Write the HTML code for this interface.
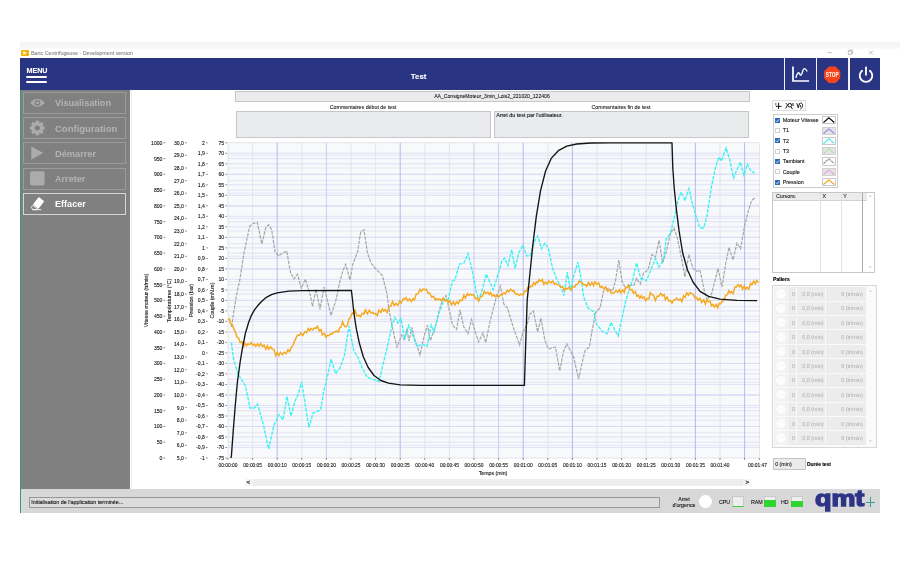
<!DOCTYPE html>
<html lang="fr"><head><meta charset="utf-8"><title>Banc Centrifugeuse - Development version</title>
<style>
html,body{margin:0;padding:0;background:#fff;}
body{filter:blur(.3px);width:900px;height:566px;position:relative;overflow:hidden;font-family:"Liberation Sans",sans-serif;font-size:5.3px;color:#222;}
.a{position:absolute;box-sizing:border-box;}
.t{position:absolute;white-space:nowrap;line-height:1;-webkit-text-stroke:.1px currentColor;}
.btn{position:absolute;left:22.9px;width:103.5px;height:22.2px;box-sizing:border-box;border:1px solid #9b9b9b;}
.btn span{position:absolute;left:31.4px;top:5.6px;font-size:9.4px;font-weight:bold;color:#b4b4b4;line-height:1;white-space:nowrap;transform-origin:0 50%;transform:scaleX(.95);}
.box{position:absolute;box-sizing:border-box;background:#e9ebed;border:.8px solid #c4c6c8;}
.leg{position:absolute;left:782.7px;font-size:5.4px;line-height:1;white-space:nowrap;color:#111;-webkit-text-stroke:.1px #111;}
.cb{position:absolute;left:775px;width:4.800px;height:5.200px;box-sizing:border-box;}
.cb.on{background:#2d6cb5;}
.cb.off{background:#fff;border:.5px solid #cfcfcf;}
.sw{position:absolute;left:822.4px;width:13.6px;height:8.2px;box-sizing:border-box;border:.5px solid #cacaca;background:#fff;}
.sw.off{background:#e4e4e4;border-color:#d0d0d0;}
.prow{position:absolute;left:774.2px;width:92px;height:13.6px;background:linear-gradient(90deg,#f4f4f4 0,#f4f4f4 12px,#ececec 12.5px);}
.prow i{position:absolute;left:2.1px;top:2.1px;width:9.4px;height:9.4px;border-radius:50%;background:#fcfcfc;box-shadow:0 0 0 .4px #eaeaea;}
.prow b{position:absolute;top:.8px;height:12px;box-sizing:border-box;border-left:.9px solid #f9f9f9;font-weight:normal;color:#a9a9a9;font-size:5.4px;line-height:12.4px;text-align:right;white-space:nowrap;}
</style></head><body>

<div class="a" style="left:20px;top:42px;width:880px;height:7.4px;background:linear-gradient(#f3f3f3,#f6f6f6 70%,#fbfbfb)"></div>
<div class="a" style="left:21px;top:50px;width:7.5px;height:6px;background:#f5b400;border-radius:.8px"></div>
<svg class="a" style="left:21px;top:50px" width="8" height="6" viewBox="0 0 8 6"><path d="M2.300 1.100 L6 3 L2.300 4.900 Z" fill="#fff"/></svg>
<div class="t" style="left:31px;top:50.6px;font-size:5.35px;color:#8a8a8a">Banc Centrifugeuse - Development version</div>
<svg class="a" style="left:820px;top:48px" width="60" height="10" viewBox="0 0 60 10"><g stroke="#9a9a9a" stroke-width=".6" fill="none"><path d="M7.5 4.6h4.4"/><rect x="28.2" y="3" width="3.4" height="3.4"/><path d="M29.2 3v-1h3.4v3.4h-1"/><path d="M49 2.6l4 4m0-4l-4 4"/></g></svg>
<div class="a" style="left:20px;top:58.4px;width:860px;height:31.2px;background:#293583"></div>
<div class="t" style="left:26.6px;top:67.1px;font-size:7.2px;font-weight:bold;color:#fff;letter-spacing:-.1px">MENU</div>
<div class="a" style="left:26px;top:75.6px;width:21px;height:2.7px;border-radius:1.4px;background:#fff"></div>
<div class="a" style="left:26px;top:80.7px;width:21px;height:2.7px;border-radius:1.4px;background:#fff"></div>
<div class="t" style="left:410.800px;top:73.400px;font-size:7.900px;font-weight:bold;color:#fff">Test</div>
<div class="a" style="left:784.3px;top:58.4px;width:1.2px;height:31.2px;background:#f2f3f8"></div>
<div class="a" style="left:816.2px;top:58.4px;width:1.2px;height:31.2px;background:#f2f3f8"></div>
<div class="a" style="left:848.4px;top:58.4px;width:1.2px;height:31.2px;background:#f2f3f8"></div>
<svg class="a" style="left:785px;top:58px" width="95" height="32" viewBox="785 58 95 32">
<g fill="none" stroke="#fff" stroke-linecap="square" stroke-linejoin="miter">
<path d="M793 67.400V81H808.200" stroke-width="1.700"/>
<path d="M795.900 77.500c1.500-5.200 2.700-5.600 3.700-3.600s1.900 1.700 3-2.400s2.700-3.600 4.400-.500" stroke-width="1.300" stroke-linecap="round"/>
</g>
<polygon points="828.900,66.600 835.500,66.600 840.300,71.400 840.300,78.200 835.500,83 828.900,83 824.100,78.200 824.100,71.400" fill="#f7441a"/>
<text x="832.200" y="77.100" font-family="Liberation Sans, sans-serif" font-weight="bold" font-size="6.300" fill="#fff" text-anchor="middle" textLength="13" lengthAdjust="spacingAndGlyphs">STOP</text>
<g fill="none" stroke="#fff" stroke-width="1.800" stroke-linecap="round">
<path d="M862.100 70.700a6.300 6.300 0 1 0 7.800 0"/>
<path d="M866 67.300V74.800"/>
</g></svg>
<div class="a" style="left:20px;top:89.6px;width:110.2px;height:399.4px;background:#808080"></div>
<div class="a" style="left:20px;top:89.6px;width:1px;height:423.4px;background:#3f8f8a"></div>
<div class="btn" style="top:91.8px"><span style="transform:scaleX(0.97)">Visualisation</span></div>
<div class="btn" style="top:117.1px"><span style="transform:scaleX(1.014)">Configuration</span></div>
<div class="btn" style="top:142.2px"><span style="transform:scaleX(0.985)">Démarrer</span></div>
<div class="btn" style="top:167.8px"><span style="transform:scaleX(0.97)">Arreter</span></div>
<div class="btn" style="top:192.8px;border-color:#d6d6d6"><span style="color:#fff;transform:scaleX(0.97)">Effacer</span></div>
<svg class="a" style="left:20px;top:90px" width="110" height="130" viewBox="20 90 110 130">
<g fill="#ababab">
<path d="M30.200 102.800C32.600 99.900 35 98.900 37.500 98.900S42.400 99.900 44.800 102.800C42.400 105.700 40 106.700 37.500 106.700S32.600 105.700 30.200 102.800Z"/>
<circle cx="37.500" cy="102.800" r="2.900" fill="#808080"/>
<circle cx="37.500" cy="102.800" r="1.500"/>
<g transform="translate(37.300 128)">
<circle r="4.300" fill="none" stroke="#ababab" stroke-width="3.400"/>
<rect x="-1.600" y="-7.400" width="3.200" height="3" transform="rotate(0)"/><rect x="-1.600" y="-7.400" width="3.200" height="3" transform="rotate(45)"/><rect x="-1.600" y="-7.400" width="3.200" height="3" transform="rotate(90)"/><rect x="-1.600" y="-7.400" width="3.200" height="3" transform="rotate(135)"/><rect x="-1.600" y="-7.400" width="3.200" height="3" transform="rotate(180)"/><rect x="-1.600" y="-7.400" width="3.200" height="3" transform="rotate(225)"/><rect x="-1.600" y="-7.400" width="3.200" height="3" transform="rotate(270)"/><rect x="-1.600" y="-7.400" width="3.200" height="3" transform="rotate(315)"/>
</g>
<path d="M31.300 146.400L43.300 153L31.300 159.600Z"/>
<rect x="30" y="171.300" width="14.600" height="14.200" rx="1.800"/>
</g>
<g fill="#fff">
<path d="M38.800 197.800L43.400 201.400L38.400 208L33.800 204.400Z" stroke="#fff" stroke-width="1.200" stroke-linejoin="round"/>
<path d="M32.900 205.300L37.500 208.900L36.200 209.600H33.400L31.500 208.200C31 207.700 31.100 207.300 31.500 206.900Z" fill="none" stroke="#fff" stroke-width=".9" stroke-linejoin="round"/>
<rect x="32.300" y="209.300" width="9" height=".9"/>
</g></svg>
<div class="a" style="left:131px;top:89.6px;width:1px;height:399px;background:#ececec"></div>
<div class="a" style="left:21px;top:489px;width:859px;height:24px;background:#d8d8d8"></div>
<div class="a" style="left:28.5px;top:497.2px;width:631px;height:10.4px;background:#dcdcdc;border:.9px solid #989898"></div>
<div class="t" style="left:31.2px;top:499.8px;font-size:5.4px;color:#111">Initialisation de l'application terminée...</div>
<div class="t" style="left:664px;top:495.900px;width:40px;text-align:center;font-size:5.3px;line-height:6.100px;white-space:normal;color:#111">Arret<br>d'urgence</div>
<div class="a" style="left:698.700px;top:495.400px;width:13px;height:13px;border-radius:50%;background:#fff"></div>
<div class="t" style="left:719px;top:499.6px;font-size:5.3px;color:#111">CPU</div>
<div class="a" style="left:732.3px;top:496px;width:11.8px;height:10.6px;background:#eceef0;border:.5px solid #c8c8c8;border-bottom:1px solid #3fd23f"></div>
<div class="t" style="left:751px;top:499.6px;font-size:5.3px;color:#111">RAM</div>
<div class="a" style="left:764.2px;top:496.2px;width:12.2px;height:10.8px;background:#eceef0;border:.5px solid #c8c8c8"></div>
<div class="a" style="left:764.2px;top:499.7px;width:12.2px;height:7.3px;background:#2fd42f"></div>
<div class="t" style="left:781px;top:499.6px;font-size:5.3px;color:#111">HD</div>
<div class="a" style="left:790.8px;top:496.2px;width:12.5px;height:10.8px;background:#eceef0;border:.5px solid #c8c8c8"></div>
<div class="a" style="left:790.8px;top:500.8px;width:12.5px;height:6.2px;background:#2fd42f"></div>
<div class="t" style="left:814.800px;top:489.300px;font-size:21.500px;font-weight:bold;color:#2e3486;letter-spacing:0;-webkit-text-stroke:1.400px #2e3486;transform-origin:0 50%;transform:scaleX(1.25)">qmt</div>
<div class="a" style="left:865.8px;top:501.6px;width:9.6px;height:.9px;background:#3a9c95"></div>
<div class="a" style="left:870.2px;top:497.4px;width:.9px;height:9.4px;background:#3a9c95"></div>
<div class="box" style="left:235.4px;top:91.4px;width:515px;height:10.2px"></div>
<div class="t" style="left:392px;width:200px;text-align:center;top:93.5px;font-size:5.1px">AA_ConsigneMoteur_3min_Lois2_221020_122406</div>
<div class="t" style="left:263px;width:200px;text-align:center;top:104.900px;font-size:5.3px">Commentaires début de test</div>
<div class="t" style="left:521px;width:200px;text-align:center;top:104.900px;font-size:5.3px">Commentaires fin de test</div>
<div class="box" style="left:236.2px;top:111.3px;width:254.4px;height:26.6px"></div>
<div class="box" style="left:494.3px;top:111.3px;width:254.3px;height:26.6px"></div>
<div class="t" style="left:496.2px;top:113.4px;font-size:5.4px;color:#111">Arret du test par l'utilisateur.</div>
<svg class="a" style="left:130px;top:138px" width="640" height="345" viewBox="130 138 640 345" font-family='Liberation Sans, sans-serif'>
<rect x="228.0" y="142.8" width="531.5" height="315.2" fill="#f7f9fb" stroke="#d4d6dc" stroke-width=".6"/>
<g stroke-width=".7"><path d="M228.0 153.31H759.5" stroke="#d6d6f4"/><path d="M228.0 163.81H759.5" stroke="#d6d6f4"/><path d="M228.0 174.32H759.5" stroke="#d6d6f4"/><path d="M228.0 184.83H759.5" stroke="#d6d6f4"/><path d="M228.0 195.33H759.5" stroke="#d6d6f4"/><path d="M228.0 205.84H759.5" stroke="#d6d6f4"/><path d="M228.0 216.35H759.5" stroke="#d6d6f4"/><path d="M228.0 226.85H759.5" stroke="#d6d6f4"/><path d="M228.0 237.36H759.5" stroke="#d6d6f4"/><path d="M228.0 247.87H759.5" stroke="#d6d6f4"/><path d="M228.0 258.37H759.5" stroke="#d6d6f4"/><path d="M228.0 268.88H759.5" stroke="#d6d6f4"/><path d="M228.0 279.39H759.5" stroke="#d6d6f4"/><path d="M228.0 289.89H759.5" stroke="#d6d6f4"/><path d="M228.0 300.40H759.5" stroke="#d6d6f4"/><path d="M228.0 310.91H759.5" stroke="#d6d6f4"/><path d="M228.0 321.41H759.5" stroke="#d6d6f4"/><path d="M228.0 331.92H759.5" stroke="#d6d6f4"/><path d="M228.0 342.43H759.5" stroke="#d6d6f4"/><path d="M228.0 352.93H759.5" stroke="#d6d6f4"/><path d="M228.0 363.44H759.5" stroke="#d6d6f4"/><path d="M228.0 373.95H759.5" stroke="#d6d6f4"/><path d="M228.0 384.45H759.5" stroke="#d6d6f4"/><path d="M228.0 394.96H759.5" stroke="#d6d6f4"/><path d="M228.0 405.47H759.5" stroke="#d6d6f4"/><path d="M228.0 415.97H759.5" stroke="#d6d6f4"/><path d="M228.0 426.48H759.5" stroke="#d6d6f4"/><path d="M228.0 436.99H759.5" stroke="#d6d6f4"/><path d="M228.0 447.49H759.5" stroke="#d6d6f4"/><path d="M228.0 155.41H759.5" stroke="#dcdcf5"/><path d="M228.0 168.02H759.5" stroke="#dcdcf5"/><path d="M228.0 180.62H759.5" stroke="#dcdcf5"/><path d="M228.0 193.23H759.5" stroke="#dcdcf5"/><path d="M228.0 205.84H759.5" stroke="#dcdcf5"/><path d="M228.0 218.45H759.5" stroke="#dcdcf5"/><path d="M228.0 231.06H759.5" stroke="#dcdcf5"/><path d="M228.0 243.66H759.5" stroke="#dcdcf5"/><path d="M228.0 256.27H759.5" stroke="#dcdcf5"/><path d="M228.0 268.88H759.5" stroke="#dcdcf5"/><path d="M228.0 281.49H759.5" stroke="#dcdcf5"/><path d="M228.0 294.10H759.5" stroke="#dcdcf5"/><path d="M228.0 306.70H759.5" stroke="#dcdcf5"/><path d="M228.0 319.31H759.5" stroke="#dcdcf5"/><path d="M228.0 331.92H759.5" stroke="#dcdcf5"/><path d="M228.0 344.53H759.5" stroke="#dcdcf5"/><path d="M228.0 357.14H759.5" stroke="#dcdcf5"/><path d="M228.0 369.74H759.5" stroke="#dcdcf5"/><path d="M228.0 382.35H759.5" stroke="#dcdcf5"/><path d="M228.0 394.96H759.5" stroke="#dcdcf5"/><path d="M228.0 407.57H759.5" stroke="#dcdcf5"/><path d="M228.0 420.18H759.5" stroke="#dcdcf5"/><path d="M228.0 432.78H759.5" stroke="#dcdcf5"/><path d="M228.0 445.39H759.5" stroke="#dcdcf5"/><path d="M228.0 158.56H759.5" stroke="#d9d9f5"/><path d="M228.0 174.32H759.5" stroke="#d9d9f5"/><path d="M228.0 190.08H759.5" stroke="#d9d9f5"/><path d="M228.0 205.84H759.5" stroke="#d9d9f5"/><path d="M228.0 221.60H759.5" stroke="#d9d9f5"/><path d="M228.0 237.36H759.5" stroke="#d9d9f5"/><path d="M228.0 253.12H759.5" stroke="#d9d9f5"/><path d="M228.0 268.88H759.5" stroke="#d9d9f5"/><path d="M228.0 284.64H759.5" stroke="#d9d9f5"/><path d="M228.0 300.40H759.5" stroke="#d9d9f5"/><path d="M228.0 316.16H759.5" stroke="#d9d9f5"/><path d="M228.0 331.92H759.5" stroke="#d9d9f5"/><path d="M228.0 347.68H759.5" stroke="#d9d9f5"/><path d="M228.0 363.44H759.5" stroke="#d9d9f5"/><path d="M228.0 379.20H759.5" stroke="#d9d9f5"/><path d="M228.0 394.96H759.5" stroke="#d9d9f5"/><path d="M228.0 410.72H759.5" stroke="#d9d9f5"/><path d="M228.0 426.48H759.5" stroke="#d9d9f5"/><path d="M228.0 442.24H759.5" stroke="#d9d9f5"/></g>
<g stroke-width=".8"><path d="M252.60 142.8V458.0" stroke="#dfe0ea"/><path d="M277.20 142.8V458.0" stroke="#a9a9ea"/><path d="M301.80 142.8V458.0" stroke="#dfe0ea"/><path d="M326.40 142.8V458.0" stroke="#c3c3ee"/><path d="M351.00 142.8V458.0" stroke="#dfe0ea"/><path d="M375.60 142.8V458.0" stroke="#dfe0ea"/><path d="M400.20 142.8V458.0" stroke="#a9a9ea"/><path d="M424.80 142.8V458.0" stroke="#dfe0ea"/><path d="M449.40 142.8V458.0" stroke="#dfe0ea"/><path d="M474.00 142.8V458.0" stroke="#c3c3ee"/><path d="M498.60 142.8V458.0" stroke="#c3c3ee"/><path d="M523.20 142.8V458.0" stroke="#a9a9ea"/><path d="M547.80 142.8V458.0" stroke="#dfe0ea"/><path d="M572.40 142.8V458.0" stroke="#a9a9ea"/><path d="M597.00 142.8V458.0" stroke="#dfe0ea"/><path d="M621.60 142.8V458.0" stroke="#dfe0ea"/><path d="M646.20 142.8V458.0" stroke="#dfe0ea"/><path d="M670.80 142.8V458.0" stroke="#dfe0ea"/><path d="M695.40 142.8V458.0" stroke="#a9a9ea"/><path d="M720.00 142.8V458.0" stroke="#dfe0ea"/><path d="M744.60 142.8V458.0" stroke="#a9a9ea"/></g>
<polyline points="231.3,327.0 232.2,322.7 234.0,310.0 236.4,296.0 238.0,288.0 239.8,280.0 244.0,253.0 249.7,226.2 253.3,223.3 257.3,222.5 261.8,244.0 265.8,227.6 268.6,224.7 271.7,229.8 275.0,251.6 278.5,255.8 282.7,253.0 286.7,251.0 290.6,272.8 294.0,279.0 297.4,274.2 301.4,288.3 305.3,279.0 310.4,295.4 312.5,306.5 316.0,289.0 320.0,309.5 324.0,287.0 326.0,294.5 331.0,315.5 336.0,300.0 340.0,281.0 343.0,270.5 345.7,264.3 350.0,280.0 352.8,264.3 357.6,251.6 360.7,231.8 364.0,229.8 367.5,253.0 371.0,263.0 375.4,268.5 382.4,275.6 386.7,292.5 389.7,314.0 394.0,335.0 397.0,347.0 401.7,335.0 404.0,339.5 406.8,329.0 409.0,341.0 412.0,327.5 414.0,336.5 420.0,355.0 424.0,336.5 427.5,325.0 430.3,340.7 435.4,326.6 441.0,304.0 446.0,295.5 449.5,311.0 452.4,325.0 456.6,329.4 460.0,309.7 463.7,326.6 468.0,333.7 471.6,319.5 475.0,331.0 478.6,342.0 483.0,333.0 485.7,342.7 490.5,319.5 496.0,298.4 500.4,286.2 503.8,304.0 507.5,308.0 513.0,326.6 519.6,345.0 523.0,332.0 527.0,325.0 530.0,314.0 533.4,311.0 537.7,332.0 540.8,318.0 545.0,340.7 548.4,349.0 555.5,347.0 559.7,371.0 563.4,352.0 566.8,343.6 571.0,352.0 573.8,357.7 578.6,378.9 582.3,362.0 585.0,350.6 589.4,347.0 592.0,330.8 595.6,312.5 600.0,308.0 603.5,291.3 608.4,288.3 612.6,291.0 615.4,281.0 618.8,260.0 622.0,281.0 625.3,288.3 629.5,285.5 633.8,285.5 636.6,278.4 640.3,284.0 643.7,272.8 648.0,270.0 652.0,254.4 655.5,257.0 659.0,240.3 662.6,263.0 666.3,251.6 670.5,233.0 674.0,228.0 677.6,239.0 681.0,255.8 685.0,277.0 688.9,254.4 693.0,268.5 696.8,271.4 700.0,270.0 704.4,291.0 707.0,300.0 711.5,294.0 714.9,281.0 718.0,268.5 722.0,287.0 725.6,264.3 729.0,247.3 733.0,260.0 737.0,243.0 740.6,248.8 744.0,229.0 748.0,212.0 751.6,200.7 754.7,198.0" fill="none" stroke="#a6a6a6" stroke-width="1.200" stroke-dasharray="3.5 1.1"/>
<polyline points="231.4,342.5 233.5,359.0 238.0,374.0 245.5,386.0 250.0,408.0 254.5,408.0 257.5,404.0 263.5,425.0 268.6,449.0 274.0,425.0 279.0,414.6 283.0,419.7 287.0,396.6 291.0,416.0 295.0,401.0 298.0,395.0 301.7,381.6 305.6,407.0 309.0,427.5 313.0,413.0 320.6,410.0 323.6,392.0 328.0,374.0 331.0,359.0 335.6,373.5 340.0,368.0 344.6,354.6 349.0,326.0 353.6,350.0 358.0,357.6 362.6,368.7 367.0,377.0 373.0,379.5 379.0,381.6 383.6,362.0 388.0,344.0 391.8,326.0 394.8,317.6 397.8,323.0 401.0,318.5 404.7,339.5 408.6,325.4 412.0,333.5 417.0,346.4 422.7,344.4 427.0,346.4 431.2,325.0 434.0,332.0 438.2,315.0 444.0,299.8 448.0,300.0 452.4,281.0 455.0,279.8 459.4,264.0 463.7,263.4 468.0,253.6 472.0,270.0 476.4,292.5 479.0,300.0 483.0,287.0 486.3,274.0 490.0,282.7 493.3,289.7 497.6,275.6 501.8,261.5 504.6,258.0 508.0,265.7 511.7,249.6 515.0,268.5 518.8,253.0 523.0,245.0 526.4,255.8 530.0,255.8 534.3,241.7 537.7,236.0 541.4,248.8 545.0,243.0 548.4,248.8 552.7,268.5 557.0,279.8 561.0,287.0 564.0,295.4 567.3,272.2 570.5,291.0 573.8,275.6 578.0,262.0 581.5,281.0 583.7,297.0 588.0,308.0 593.6,311.6 596.4,323.8 602.0,331.0 607.0,333.7 611.0,322.4 615.4,331.0 618.2,336.0 621.0,322.4 625.3,302.6 629.5,288.5 632.4,281.0 636.6,263.0 640.8,278.4 646.5,280.7 650.7,270.0 655.5,258.6 659.0,267.0 663.4,260.0 666.3,238.9 670.5,233.0 674.7,216.0 678.0,200.7 681.0,192.0 685.0,200.7 688.9,188.6 692.0,202.0 696.0,216.0 700.0,228.0 703.6,228.0 707.0,216.0 711.5,186.6 715.7,166.8 719.0,157.0 721.4,161.0 726.0,148.0 729.8,159.8 733.5,178.0 737.0,169.7 740.3,162.0 744.0,175.3 747.3,164.0 751.0,171.0 754.7,173.3" fill="none" stroke="#38f2f2" stroke-width="1.35" stroke-dasharray="3.6 1.2"/>
<polyline points="228.0,319.9 229.4,319.0 230.7,323.9 232.3,324.8 233.9,329.2 235.5,332.3 236.8,336.7 238.7,338.2 240.2,342.6 242.1,341.8 243.7,346.5 245.0,343.2 246.5,345.7 247.9,343.9 249.7,344.7 251.4,342.6 253.0,345.6 254.3,344.1 255.7,346.2 257.3,343.9 259.0,346.2 260.5,343.4 262.3,346.4 264.0,345.2 265.9,349.2 267.4,345.9 268.8,349.2 270.6,346.7 272.2,349.1 274.0,349.5 275.7,355.7 277.2,352.3 278.9,355.7 280.5,352.3 282.4,354.6 284.2,352.2 286.0,353.7 288.0,349.8 289.5,351.7 291.2,347.5 292.8,345.7 294.2,341.9 296.0,338.1 297.5,335.0 299.4,335.5 301.0,333.0 302.9,335.4 304.8,331.7 306.4,332.7 308.3,328.5 309.7,330.5 311.2,328.5 312.8,330.0 314.3,327.9 315.8,328.5 317.5,326.3 319.3,331.0 321.0,329.6 322.3,335.0 324.2,333.4 326.0,337.2 327.6,335.2 329.3,335.4 330.7,333.6 332.1,334.2 333.4,332.2 334.8,332.2 336.3,331.0 338.2,332.1 339.6,327.9 341.1,327.1 342.5,321.8 344.5,326.4 346.1,326.8 347.5,324.9 349.0,318.6 350.4,317.6 352.3,313.0 353.7,313.5 355.0,310.3 357.0,316.0 358.8,315.4 360.3,316.8 362.2,313.3 364.0,313.8 365.4,309.8 367.4,313.9 369.3,310.2 371.1,313.1 372.7,312.1 374.1,313.9 375.5,313.6 377.3,315.7 378.9,310.0 380.9,312.6 382.4,309.0 383.9,311.0 385.3,309.5 387.2,312.6 388.9,306.8 390.7,306.3 392.5,301.4 394.3,305.5 395.9,303.4 397.8,305.2 399.7,301.1 401.2,303.0 403.2,298.5 404.6,299.5 406.0,297.5 407.8,300.8 409.7,298.8 411.5,301.5 413.1,298.7 414.4,300.0 416.2,294.0 418.1,293.6 420.0,289.3 421.5,291.2 423.0,289.1 424.7,289.7 426.2,289.1 428.2,293.3 429.8,293.3 431.7,297.2 433.7,296.3 435.3,300.0 436.6,298.5 438.0,299.9 439.9,298.9 441.5,301.0 443.2,298.2 444.8,300.9 446.7,300.2 448.4,302.3 449.8,300.7 451.5,304.8 453.3,301.7 454.9,305.0 456.6,302.0 458.3,303.8 460.0,299.9 462.0,300.8 463.9,295.2 465.3,298.1 467.3,293.7 468.7,295.5 470.3,293.9 471.7,295.2 473.5,294.5 475.4,298.5 477.2,297.9 478.6,301.2 480.6,296.5 482.5,296.2 484.2,291.3 486.0,293.5 487.6,292.2 489.2,294.5 490.7,292.6 492.0,296.1 493.6,294.6 495.1,296.6 496.7,294.9 498.7,297.3 500.7,294.4 502.2,294.5 504.0,292.7 505.4,294.0 507.3,290.2 508.8,291.9 510.7,289.1 512.5,291.2 513.8,290.5 515.4,294.0 517.4,293.9 519.2,295.4 521.1,294.2 523.0,295.1 524.6,291.0 526.5,291.0 527.9,287.5 529.3,287.9 530.7,286.2 532.1,286.4 533.6,282.7 535.1,284.8 536.5,281.8 537.8,282.7 539.1,279.5 540.8,281.3 542.4,279.5 543.8,284.4 545.4,282.1 547.3,284.1 548.9,281.0 550.9,283.0 552.8,280.9 554.5,284.2 556.0,283.4 557.4,284.7 559.2,285.1 560.6,287.3 562.5,286.5 564.3,290.4 565.7,288.3 567.3,289.1 568.9,287.3 570.9,289.9 572.6,286.6 574.6,287.1 576.1,284.5 577.6,284.3 579.3,280.8 580.9,282.5 582.4,283.1 584.0,285.0 585.3,284.6 586.7,286.3 588.4,282.6 590.1,285.4 592.0,282.5 593.6,285.8 594.9,281.8 596.7,284.3 598.6,282.9 600.3,287.6 602.2,286.2 603.8,288.9 605.7,286.9 607.6,291.3 609.5,289.7 611.3,293.2 612.6,293.0 614.1,293.1 616.0,290.4 617.7,292.4 619.5,289.6 620.8,292.9 622.6,289.9 624.3,292.5 625.6,287.4 627.1,287.6 628.5,284.9 630.0,290.1 631.9,289.5 633.5,293.3 635.3,291.6 637.0,296.3 638.3,295.2 639.8,298.2 641.3,295.8 642.6,298.2 644.1,296.9 645.8,300.7 647.3,298.3 648.9,298.9 650.3,292.7 651.7,294.4 653.7,295.5 655.3,300.5 657.3,296.1 658.7,296.5 660.7,293.4 662.4,295.9 664.1,294.5 665.4,299.7 667.1,297.0 668.9,301.2 670.8,300.8 672.1,303.1 673.7,299.9 675.2,299.8 676.8,298.0 678.6,300.2 680.5,299.0 681.8,301.7 683.6,295.7 685.1,297.4 686.7,292.8 688.4,295.1 690.0,292.5 691.3,293.4 693.2,294.4 695.1,298.1 696.6,297.4 698.0,300.3 700.0,298.2 701.8,302.6 703.8,299.7 705.4,304.2 706.8,299.9 708.4,301.8 710.1,301.1 711.4,305.9 712.8,304.5 714.3,307.1 716.1,304.4 717.6,307.8 719.1,303.4 720.7,303.9 722.1,301.2 724.0,300.7 725.4,295.6 727.4,294.6 728.8,290.8 730.2,292.8 731.5,291.6 733.0,293.6 734.9,287.0 736.5,287.0 738.1,284.6 739.6,286.8 741.1,285.0 742.5,289.3 744.2,286.2 745.7,289.1 747.1,287.2 748.7,289.2 750.6,283.4 751.9,284.7 753.7,281.2 755.3,283.9 756.6,280.7 758.5,282.4" fill="none" stroke="#f5a81c" stroke-width="1.45" stroke-linejoin="miter"/>
<polyline points="230.9,458.0 231.4,456.0 233.3,430.0 235.3,405.0 237.4,382.0 240.3,361.0 242.5,347.8 245.4,333.3 246.4,330.0 248.6,322.5 251.3,315.6 254.3,310.2 257.6,305.8 261.8,301.2 266.4,297.3 271.5,294.6 277.1,292.9 288.7,291.1 302.0,290.6 351.4,290.3 352.3,298.0 353.6,310.2 355.0,320.5 356.5,329.7 359.4,343.3 363.3,356.8 368.2,367.5 374.0,375.5 380.8,380.5 388.5,383.2 400.2,384.8 420.0,385.3 450.0,385.4 524.4,385.4 525.5,350.0 527.2,300.0 530.0,272.8 532.9,244.5 536.3,216.3 540.5,190.8 545.6,171.0 551.2,158.4 558.3,150.7 566.8,146.2 576.7,144.0 590.8,143.0 610.0,142.8 672.0,142.8 672.8,168.0 674.2,188.0 676.2,207.8 679.0,230.4 682.7,253.0 687.5,270.0 693.0,282.0 700.0,291.3 708.6,296.4 720.0,299.2 737.0,300.3 757.0,300.6" fill="none" stroke="#141414" stroke-width="1.35" stroke-linejoin="round"/>
<g font-size="5.1" fill="#111" stroke="#111" stroke-width=".1">
<text x="162.4" y="144.7" text-anchor="end">1000</text>
<path d="M163.5 142.8h1.8" stroke="#333" stroke-width=".55"/>
<text x="162.4" y="160.5" text-anchor="end">950</text>
<path d="M163.5 158.6h1.8" stroke="#333" stroke-width=".55"/>
<text x="162.4" y="176.2" text-anchor="end">900</text>
<path d="M163.5 174.3h1.8" stroke="#333" stroke-width=".55"/>
<text x="162.4" y="192.0" text-anchor="end">850</text>
<path d="M163.5 190.1h1.8" stroke="#333" stroke-width=".55"/>
<text x="162.4" y="207.7" text-anchor="end">800</text>
<path d="M163.5 205.8h1.8" stroke="#333" stroke-width=".55"/>
<text x="162.4" y="223.5" text-anchor="end">750</text>
<path d="M163.5 221.6h1.8" stroke="#333" stroke-width=".55"/>
<text x="162.4" y="239.3" text-anchor="end">700</text>
<path d="M163.5 237.4h1.8" stroke="#333" stroke-width=".55"/>
<text x="162.4" y="255.0" text-anchor="end">650</text>
<path d="M163.5 253.1h1.8" stroke="#333" stroke-width=".55"/>
<text x="162.4" y="270.8" text-anchor="end">600</text>
<path d="M163.5 268.9h1.8" stroke="#333" stroke-width=".55"/>
<text x="162.4" y="286.5" text-anchor="end">550</text>
<path d="M163.5 284.6h1.8" stroke="#333" stroke-width=".55"/>
<text x="162.4" y="302.3" text-anchor="end">500</text>
<path d="M163.5 300.4h1.8" stroke="#333" stroke-width=".55"/>
<text x="162.4" y="318.1" text-anchor="end">450</text>
<path d="M163.5 316.2h1.8" stroke="#333" stroke-width=".55"/>
<text x="162.4" y="333.8" text-anchor="end">400</text>
<path d="M163.5 331.9h1.8" stroke="#333" stroke-width=".55"/>
<text x="162.4" y="349.6" text-anchor="end">350</text>
<path d="M163.5 347.7h1.8" stroke="#333" stroke-width=".55"/>
<text x="162.4" y="365.3" text-anchor="end">300</text>
<path d="M163.5 363.4h1.8" stroke="#333" stroke-width=".55"/>
<text x="162.4" y="381.1" text-anchor="end">250</text>
<path d="M163.5 379.2h1.8" stroke="#333" stroke-width=".55"/>
<text x="162.4" y="396.9" text-anchor="end">200</text>
<path d="M163.5 395.0h1.8" stroke="#333" stroke-width=".55"/>
<text x="162.4" y="412.6" text-anchor="end">150</text>
<path d="M163.5 410.7h1.8" stroke="#333" stroke-width=".55"/>
<text x="162.4" y="428.4" text-anchor="end">100</text>
<path d="M163.5 426.5h1.8" stroke="#333" stroke-width=".55"/>
<text x="162.4" y="444.1" text-anchor="end">50</text>
<path d="M163.5 442.2h1.8" stroke="#333" stroke-width=".55"/>
<text x="162.4" y="459.9" text-anchor="end">0</text>
<path d="M163.5 458.0h1.8" stroke="#333" stroke-width=".55"/>
<text x="183.9" y="144.7" text-anchor="end">30,0</text>
<path d="M185.0 142.8h1.8" stroke="#333" stroke-width=".55"/>
<text x="183.9" y="157.3" text-anchor="end">29,0</text>
<path d="M185.0 155.4h1.8" stroke="#333" stroke-width=".55"/>
<text x="183.9" y="169.9" text-anchor="end">28,0</text>
<path d="M185.0 168.0h1.8" stroke="#333" stroke-width=".55"/>
<text x="183.9" y="182.5" text-anchor="end">27,0</text>
<path d="M185.0 180.6h1.8" stroke="#333" stroke-width=".55"/>
<text x="183.9" y="195.1" text-anchor="end">26,0</text>
<path d="M185.0 193.2h1.8" stroke="#333" stroke-width=".55"/>
<text x="183.9" y="207.7" text-anchor="end">25,0</text>
<path d="M185.0 205.8h1.8" stroke="#333" stroke-width=".55"/>
<text x="183.9" y="220.3" text-anchor="end">24,0</text>
<path d="M185.0 218.4h1.8" stroke="#333" stroke-width=".55"/>
<text x="183.9" y="233.0" text-anchor="end">23,0</text>
<path d="M185.0 231.1h1.8" stroke="#333" stroke-width=".55"/>
<text x="183.9" y="245.6" text-anchor="end">22,0</text>
<path d="M185.0 243.7h1.8" stroke="#333" stroke-width=".55"/>
<text x="183.9" y="258.2" text-anchor="end">21,0</text>
<path d="M185.0 256.3h1.8" stroke="#333" stroke-width=".55"/>
<text x="183.9" y="270.8" text-anchor="end">20,0</text>
<path d="M185.0 268.9h1.8" stroke="#333" stroke-width=".55"/>
<text x="183.9" y="283.4" text-anchor="end">19,0</text>
<path d="M185.0 281.5h1.8" stroke="#333" stroke-width=".55"/>
<text x="183.9" y="296.0" text-anchor="end">18,0</text>
<path d="M185.0 294.1h1.8" stroke="#333" stroke-width=".55"/>
<text x="183.9" y="308.6" text-anchor="end">17,0</text>
<path d="M185.0 306.7h1.8" stroke="#333" stroke-width=".55"/>
<text x="183.9" y="321.2" text-anchor="end">16,0</text>
<path d="M185.0 319.3h1.8" stroke="#333" stroke-width=".55"/>
<text x="183.9" y="333.8" text-anchor="end">15,0</text>
<path d="M185.0 331.9h1.8" stroke="#333" stroke-width=".55"/>
<text x="183.9" y="346.4" text-anchor="end">14,0</text>
<path d="M185.0 344.5h1.8" stroke="#333" stroke-width=".55"/>
<text x="183.9" y="359.0" text-anchor="end">13,0</text>
<path d="M185.0 357.1h1.8" stroke="#333" stroke-width=".55"/>
<text x="183.9" y="371.6" text-anchor="end">12,0</text>
<path d="M185.0 369.7h1.8" stroke="#333" stroke-width=".55"/>
<text x="183.9" y="384.3" text-anchor="end">11,0</text>
<path d="M185.0 382.4h1.8" stroke="#333" stroke-width=".55"/>
<text x="183.9" y="396.9" text-anchor="end">10,0</text>
<path d="M185.0 395.0h1.8" stroke="#333" stroke-width=".55"/>
<text x="183.9" y="409.5" text-anchor="end">9,0</text>
<path d="M185.0 407.6h1.8" stroke="#333" stroke-width=".55"/>
<text x="183.9" y="422.1" text-anchor="end">8,0</text>
<path d="M185.0 420.2h1.8" stroke="#333" stroke-width=".55"/>
<text x="183.9" y="434.7" text-anchor="end">7,0</text>
<path d="M185.0 432.8h1.8" stroke="#333" stroke-width=".55"/>
<text x="183.9" y="447.3" text-anchor="end">6,0</text>
<path d="M185.0 445.4h1.8" stroke="#333" stroke-width=".55"/>
<text x="183.9" y="459.9" text-anchor="end">5,0</text>
<path d="M185.0 458.0h1.8" stroke="#333" stroke-width=".55"/>
<text x="204.9" y="144.7" text-anchor="end">2</text>
<path d="M206.0 142.8h1.8" stroke="#333" stroke-width=".55"/>
<text x="204.9" y="155.2" text-anchor="end">1,9</text>
<path d="M206.0 153.3h1.8" stroke="#333" stroke-width=".55"/>
<text x="204.9" y="165.7" text-anchor="end">1,8</text>
<path d="M206.0 163.8h1.8" stroke="#333" stroke-width=".55"/>
<text x="204.9" y="176.2" text-anchor="end">1,7</text>
<path d="M206.0 174.3h1.8" stroke="#333" stroke-width=".55"/>
<text x="204.9" y="186.7" text-anchor="end">1,6</text>
<path d="M206.0 184.8h1.8" stroke="#333" stroke-width=".55"/>
<text x="204.9" y="197.2" text-anchor="end">1,5</text>
<path d="M206.0 195.3h1.8" stroke="#333" stroke-width=".55"/>
<text x="204.9" y="207.7" text-anchor="end">1,4</text>
<path d="M206.0 205.8h1.8" stroke="#333" stroke-width=".55"/>
<text x="204.9" y="218.2" text-anchor="end">1,3</text>
<path d="M206.0 216.3h1.8" stroke="#333" stroke-width=".55"/>
<text x="204.9" y="228.8" text-anchor="end">1,2</text>
<path d="M206.0 226.9h1.8" stroke="#333" stroke-width=".55"/>
<text x="204.9" y="239.3" text-anchor="end">1,1</text>
<path d="M206.0 237.4h1.8" stroke="#333" stroke-width=".55"/>
<text x="204.9" y="249.8" text-anchor="end">1</text>
<path d="M206.0 247.9h1.8" stroke="#333" stroke-width=".55"/>
<text x="204.9" y="260.3" text-anchor="end">0,9</text>
<path d="M206.0 258.4h1.8" stroke="#333" stroke-width=".55"/>
<text x="204.9" y="270.8" text-anchor="end">0,8</text>
<path d="M206.0 268.9h1.8" stroke="#333" stroke-width=".55"/>
<text x="204.9" y="281.3" text-anchor="end">0,7</text>
<path d="M206.0 279.4h1.8" stroke="#333" stroke-width=".55"/>
<text x="204.9" y="291.8" text-anchor="end">0,6</text>
<path d="M206.0 289.9h1.8" stroke="#333" stroke-width=".55"/>
<text x="204.9" y="302.3" text-anchor="end">0,5</text>
<path d="M206.0 300.4h1.8" stroke="#333" stroke-width=".55"/>
<text x="204.9" y="312.8" text-anchor="end">0,4</text>
<path d="M206.0 310.9h1.8" stroke="#333" stroke-width=".55"/>
<text x="204.9" y="323.3" text-anchor="end">0,3</text>
<path d="M206.0 321.4h1.8" stroke="#333" stroke-width=".55"/>
<text x="204.9" y="333.8" text-anchor="end">0,2</text>
<path d="M206.0 331.9h1.8" stroke="#333" stroke-width=".55"/>
<text x="204.9" y="344.3" text-anchor="end">0,1</text>
<path d="M206.0 342.4h1.8" stroke="#333" stroke-width=".55"/>
<text x="204.9" y="354.8" text-anchor="end">0</text>
<path d="M206.0 352.9h1.8" stroke="#333" stroke-width=".55"/>
<text x="204.9" y="365.3" text-anchor="end">-0,1</text>
<path d="M206.0 363.4h1.8" stroke="#333" stroke-width=".55"/>
<text x="204.9" y="375.8" text-anchor="end">-0,2</text>
<path d="M206.0 373.9h1.8" stroke="#333" stroke-width=".55"/>
<text x="204.9" y="386.4" text-anchor="end">-0,3</text>
<path d="M206.0 384.5h1.8" stroke="#333" stroke-width=".55"/>
<text x="204.9" y="396.9" text-anchor="end">-0,4</text>
<path d="M206.0 395.0h1.8" stroke="#333" stroke-width=".55"/>
<text x="204.9" y="407.4" text-anchor="end">-0,5</text>
<path d="M206.0 405.5h1.8" stroke="#333" stroke-width=".55"/>
<text x="204.9" y="417.9" text-anchor="end">-0,6</text>
<path d="M206.0 416.0h1.8" stroke="#333" stroke-width=".55"/>
<text x="204.9" y="428.4" text-anchor="end">-0,7</text>
<path d="M206.0 426.5h1.8" stroke="#333" stroke-width=".55"/>
<text x="204.9" y="438.9" text-anchor="end">-0,8</text>
<path d="M206.0 437.0h1.8" stroke="#333" stroke-width=".55"/>
<text x="204.9" y="449.4" text-anchor="end">-0,9</text>
<path d="M206.0 447.5h1.8" stroke="#333" stroke-width=".55"/>
<text x="204.9" y="459.9" text-anchor="end">-1</text>
<path d="M206.0 458.0h1.8" stroke="#333" stroke-width=".55"/>
<text x="224.2" y="144.7" text-anchor="end">75</text>
<path d="M225.3 142.8h1.8" stroke="#333" stroke-width=".55"/>
<text x="224.2" y="155.2" text-anchor="end">70</text>
<path d="M225.3 153.3h1.8" stroke="#333" stroke-width=".55"/>
<text x="224.2" y="165.7" text-anchor="end">65</text>
<path d="M225.3 163.8h1.8" stroke="#333" stroke-width=".55"/>
<text x="224.2" y="176.2" text-anchor="end">60</text>
<path d="M225.3 174.3h1.8" stroke="#333" stroke-width=".55"/>
<text x="224.2" y="186.7" text-anchor="end">55</text>
<path d="M225.3 184.8h1.8" stroke="#333" stroke-width=".55"/>
<text x="224.2" y="197.2" text-anchor="end">50</text>
<path d="M225.3 195.3h1.8" stroke="#333" stroke-width=".55"/>
<text x="224.2" y="207.7" text-anchor="end">45</text>
<path d="M225.3 205.8h1.8" stroke="#333" stroke-width=".55"/>
<text x="224.2" y="218.2" text-anchor="end">40</text>
<path d="M225.3 216.3h1.8" stroke="#333" stroke-width=".55"/>
<text x="224.2" y="228.8" text-anchor="end">35</text>
<path d="M225.3 226.9h1.8" stroke="#333" stroke-width=".55"/>
<text x="224.2" y="239.3" text-anchor="end">30</text>
<path d="M225.3 237.4h1.8" stroke="#333" stroke-width=".55"/>
<text x="224.2" y="249.8" text-anchor="end">25</text>
<path d="M225.3 247.9h1.8" stroke="#333" stroke-width=".55"/>
<text x="224.2" y="260.3" text-anchor="end">20</text>
<path d="M225.3 258.4h1.8" stroke="#333" stroke-width=".55"/>
<text x="224.2" y="270.8" text-anchor="end">15</text>
<path d="M225.3 268.9h1.8" stroke="#333" stroke-width=".55"/>
<text x="224.2" y="281.3" text-anchor="end">10</text>
<path d="M225.3 279.4h1.8" stroke="#333" stroke-width=".55"/>
<text x="224.2" y="291.8" text-anchor="end">5</text>
<path d="M225.3 289.9h1.8" stroke="#333" stroke-width=".55"/>
<text x="224.2" y="302.3" text-anchor="end">0</text>
<path d="M225.3 300.4h1.8" stroke="#333" stroke-width=".55"/>
<text x="224.2" y="312.8" text-anchor="end">-5</text>
<path d="M225.3 310.9h1.8" stroke="#333" stroke-width=".55"/>
<text x="224.2" y="323.3" text-anchor="end">-10</text>
<path d="M225.3 321.4h1.8" stroke="#333" stroke-width=".55"/>
<text x="224.2" y="333.8" text-anchor="end">-15</text>
<path d="M225.3 331.9h1.8" stroke="#333" stroke-width=".55"/>
<text x="224.2" y="344.3" text-anchor="end">-20</text>
<path d="M225.3 342.4h1.8" stroke="#333" stroke-width=".55"/>
<text x="224.2" y="354.8" text-anchor="end">-25</text>
<path d="M225.3 352.9h1.8" stroke="#333" stroke-width=".55"/>
<text x="224.2" y="365.3" text-anchor="end">-30</text>
<path d="M225.3 363.4h1.8" stroke="#333" stroke-width=".55"/>
<text x="224.2" y="375.8" text-anchor="end">-35</text>
<path d="M225.3 373.9h1.8" stroke="#333" stroke-width=".55"/>
<text x="224.2" y="386.4" text-anchor="end">-40</text>
<path d="M225.3 384.5h1.8" stroke="#333" stroke-width=".55"/>
<text x="224.2" y="396.9" text-anchor="end">-45</text>
<path d="M225.3 395.0h1.8" stroke="#333" stroke-width=".55"/>
<text x="224.2" y="407.4" text-anchor="end">-50</text>
<path d="M225.3 405.5h1.8" stroke="#333" stroke-width=".55"/>
<text x="224.2" y="417.9" text-anchor="end">-55</text>
<path d="M225.3 416.0h1.8" stroke="#333" stroke-width=".55"/>
<text x="224.2" y="428.4" text-anchor="end">-60</text>
<path d="M225.3 426.5h1.8" stroke="#333" stroke-width=".55"/>
<text x="224.2" y="438.9" text-anchor="end">-65</text>
<path d="M225.3 437.0h1.8" stroke="#333" stroke-width=".55"/>
<text x="224.2" y="449.4" text-anchor="end">-70</text>
<path d="M225.3 447.5h1.8" stroke="#333" stroke-width=".55"/>
<text x="224.2" y="459.9" text-anchor="end">-75</text>
<path d="M225.3 458.0h1.8" stroke="#333" stroke-width=".55"/>
<text x="228.0" y="467" text-anchor="middle" font-size="4.85">00:00:00</text>
<text x="252.6" y="467" text-anchor="middle" font-size="4.85">00:00:05</text>
<text x="277.2" y="467" text-anchor="middle" font-size="4.85">00:00:10</text>
<text x="301.8" y="467" text-anchor="middle" font-size="4.85">00:00:15</text>
<text x="326.4" y="467" text-anchor="middle" font-size="4.85">00:00:20</text>
<text x="351.0" y="467" text-anchor="middle" font-size="4.85">00:00:25</text>
<text x="375.6" y="467" text-anchor="middle" font-size="4.85">00:00:30</text>
<text x="400.2" y="467" text-anchor="middle" font-size="4.85">00:00:35</text>
<text x="424.8" y="467" text-anchor="middle" font-size="4.85">00:00:40</text>
<text x="449.4" y="467" text-anchor="middle" font-size="4.85">00:00:45</text>
<text x="474.0" y="467" text-anchor="middle" font-size="4.85">00:00:50</text>
<text x="498.6" y="467" text-anchor="middle" font-size="4.85">00:00:55</text>
<text x="523.2" y="467" text-anchor="middle" font-size="4.85">00:01:00</text>
<text x="547.8" y="467" text-anchor="middle" font-size="4.85">00:01:05</text>
<text x="572.4" y="467" text-anchor="middle" font-size="4.85">00:01:10</text>
<text x="597.0" y="467" text-anchor="middle" font-size="4.85">00:01:15</text>
<text x="621.6" y="467" text-anchor="middle" font-size="4.85">00:01:20</text>
<text x="646.2" y="467" text-anchor="middle" font-size="4.85">00:01:25</text>
<text x="670.8" y="467" text-anchor="middle" font-size="4.85">00:01:30</text>
<text x="695.4" y="467" text-anchor="middle" font-size="4.85">00:01:35</text>
<text x="720.0" y="467" text-anchor="middle" font-size="4.85">00:01:40</text>
<text x="757.5" y="467" text-anchor="middle" font-size="4.85">00:01:47</text>
<path d="M228.00 458v1.800" stroke="#333" stroke-width=".6"/>
<path d="M252.60 458v1.800" stroke="#333" stroke-width=".6"/>
<path d="M277.20 458v1.800" stroke="#333" stroke-width=".6"/>
<path d="M301.80 458v1.800" stroke="#333" stroke-width=".6"/>
<path d="M326.40 458v1.800" stroke="#333" stroke-width=".6"/>
<path d="M351.00 458v1.800" stroke="#333" stroke-width=".6"/>
<path d="M375.60 458v1.800" stroke="#333" stroke-width=".6"/>
<path d="M400.20 458v1.800" stroke="#333" stroke-width=".6"/>
<path d="M424.80 458v1.800" stroke="#333" stroke-width=".6"/>
<path d="M449.40 458v1.800" stroke="#333" stroke-width=".6"/>
<path d="M474.00 458v1.800" stroke="#333" stroke-width=".6"/>
<path d="M498.60 458v1.800" stroke="#333" stroke-width=".6"/>
<path d="M523.20 458v1.800" stroke="#333" stroke-width=".6"/>
<path d="M547.80 458v1.800" stroke="#333" stroke-width=".6"/>
<path d="M572.40 458v1.800" stroke="#333" stroke-width=".6"/>
<path d="M597.00 458v1.800" stroke="#333" stroke-width=".6"/>
<path d="M621.60 458v1.800" stroke="#333" stroke-width=".6"/>
<path d="M646.20 458v1.800" stroke="#333" stroke-width=".6"/>
<path d="M670.80 458v1.800" stroke="#333" stroke-width=".6"/>
<path d="M695.40 458v1.800" stroke="#333" stroke-width=".6"/>
<path d="M720.00 458v1.800" stroke="#333" stroke-width=".6"/>
<path d="M744.60 458v1.800" stroke="#333" stroke-width=".6"/>
<path d="M759.300 458v1.800" stroke="#333" stroke-width=".6"/>
<text x="493" y="474.6" text-anchor="middle" font-size="5.2">Temps (min)</text>
<text transform="translate(148.2 300.500) rotate(-90)" text-anchor="middle" font-size="5.3">Vitesse moteur (tr/min)</text>
<text transform="translate(170.8 300.500) rotate(-90)" text-anchor="middle" font-size="5.3">Températures (°C)</text>
<text transform="translate(192.8 300.500) rotate(-90)" text-anchor="middle" font-size="5.3">Pression (bar)</text>
<text transform="translate(213.6 300.500) rotate(-90)" text-anchor="middle" font-size="5.3">Couple (mN.m)</text>
</g></svg>
<div class="a" style="left:244.6px;top:478.6px;width:506.6px;height:7px;background:linear-gradient(90deg,#f5f5f5 0,#f5f5f5 8px,#ededed 8.5px,#ededed 498px,#f5f5f5 498.500px)"></div>
<div class="t" style="left:246.400px;top:478.700px;font-size:6.200px;font-weight:bold;color:#222">&lt;</div>
<div class="t" style="left:745.400px;top:478.700px;font-size:6.200px;font-weight:bold;color:#222">&gt;</div>
<div class="a" style="left:772.3px;top:100.200px;width:33.500px;height:11.200px;background:#fcfcfc;border:.6px solid #dcdcdc"></div>
<svg class="a" style="left:772px;top:100px" width="34" height="12" viewBox="772 100 34 12"><g fill="none" stroke="#111" stroke-width=".95">
<path d="M778.600 102.800v6.300M776 106.400h5.500"/><path d="M775.800 103v2.400" stroke="#2f9a2f" stroke-width="1.100"/>
<circle cx="789.800" cy="105.200" r="1.800"/><path d="M791 106.800l1.500 2.300M786 103.200l1.500 1.700-1.700 3.600M793 103v3"/>
<path d="M796.800 103.200l1.500 4.600 1.300-4.600M800.200 103c1.500-.2 2.400.8 2.400 2.400s-.8 3-2.200 3.600M800.600 105.200v2"/>
</g></svg>
<div class="a" style="left:773px;top:114px;width:64.600px;height:74.400px;background:#fff;border:.6px solid #cccccc"></div>
<div class="cb on" style="top:117.7px"></div>
<svg class="a" style="left:775px;top:117.7px" width="5.2" height="5.2" viewBox="0 0 5.2 5.2"><path d="M1.100 2.700l1.100 1.100 1.900-2.400" fill="none" stroke="#fff" stroke-width=".8"/></svg>
<div class="leg" style="top:118.0px">Moteur Vitesse</div>
<div class="sw" style="top:116.2px"></div>
<svg class="a" style="left:822.4px;top:116.2px" width="13.600" height="8.200" viewBox="0 0 13.600 8.200"><path d="M1.500 6.500L6.900 1.900L12.300 6.500" fill="none" stroke="#111" stroke-width="1.25"/></svg>
<div class="cb off" style="top:128.0px"></div>
<div class="leg" style="top:128.3px">T1</div>
<div class="sw off" style="top:126.5px"></div>
<svg class="a" style="left:822.4px;top:126.5px" width="13.600" height="8.200" viewBox="0 0 13.600 8.200"><path d="M1.500 6.500L6.900 1.900L12.300 6.500" fill="none" stroke="#8c8cf0" stroke-width="1.1"/></svg>
<div class="cb on" style="top:138.3px"></div>
<svg class="a" style="left:775px;top:138.3px" width="5.2" height="5.2" viewBox="0 0 5.2 5.2"><path d="M1.100 2.700l1.100 1.100 1.900-2.400" fill="none" stroke="#fff" stroke-width=".8"/></svg>
<div class="leg" style="top:138.6px">T2</div>
<div class="sw" style="top:136.8px"></div>
<svg class="a" style="left:822.4px;top:136.8px" width="13.600" height="8.200" viewBox="0 0 13.600 8.200"><path d="M1.500 6.500L6.900 1.900L12.300 6.500" fill="none" stroke="#30eaea" stroke-width="1.25" stroke-dasharray="2.800 .6"/></svg>
<div class="cb off" style="top:148.6px"></div>
<div class="leg" style="top:148.9px">T3</div>
<div class="sw off" style="top:147.1px"></div>
<svg class="a" style="left:822.4px;top:147.1px" width="13.600" height="8.200" viewBox="0 0 13.600 8.200"><path d="M1.500 6.500L6.900 1.900L12.300 6.500" fill="none" stroke="#a5e8b0" stroke-width="1.1"/></svg>
<div class="cb on" style="top:158.9px"></div>
<svg class="a" style="left:775px;top:158.9px" width="5.2" height="5.2" viewBox="0 0 5.2 5.2"><path d="M1.100 2.700l1.100 1.100 1.900-2.400" fill="none" stroke="#fff" stroke-width=".8"/></svg>
<div class="leg" style="top:159.2px">Tambiant</div>
<div class="sw" style="top:157.4px"></div>
<svg class="a" style="left:822.4px;top:157.4px" width="13.600" height="8.200" viewBox="0 0 13.600 8.200"><path d="M1.500 6.500L6.900 1.900L12.300 6.500" fill="none" stroke="#9a9a9a" stroke-width="1.25" stroke-dasharray="2.800 .6"/></svg>
<div class="cb off" style="top:169.2px"></div>
<div class="leg" style="top:169.5px">Couple</div>
<div class="sw off" style="top:167.7px"></div>
<svg class="a" style="left:822.4px;top:167.7px" width="13.600" height="8.200" viewBox="0 0 13.600 8.200"><path d="M1.500 6.500L6.900 1.900L12.300 6.500" fill="none" stroke="#e8a0e0" stroke-width="1.1"/></svg>
<div class="cb on" style="top:179.5px"></div>
<svg class="a" style="left:775px;top:179.5px" width="5.2" height="5.2" viewBox="0 0 5.2 5.2"><path d="M1.100 2.700l1.100 1.100 1.900-2.400" fill="none" stroke="#fff" stroke-width=".8"/></svg>
<div class="leg" style="top:179.8px">Pression</div>
<div class="sw" style="top:178.0px"></div>
<svg class="a" style="left:822.4px;top:178.0px" width="13.600" height="8.200" viewBox="0 0 13.600 8.200"><path d="M1.500 6.500L6.900 1.900L12.300 6.500" fill="none" stroke="#f5a81c" stroke-width="1.25"/></svg>
<div class="a" style="left:772px;top:192.400px;width:103px;height:80.200px;background:#fff;border:.6px solid #c8c8c8"></div>
<div class="a" style="left:772.6px;top:193px;width:94px;height:7.600px;background:#ececec;border-bottom:.8px solid #d2d2d2"></div>
<div class="a" style="left:820.1px;top:193px;width:.8px;height:79px;background:#e2e2e2"></div>
<div class="a" style="left:840.6px;top:193px;width:.8px;height:79px;background:#e2e2e2"></div>
<div class="a" style="left:861.9px;top:193px;width:.8px;height:79px;background:#aaaaaa"></div>
<div class="t" style="left:776px;top:194.300px;font-size:5.3px">Cursors:</div>
<div class="t" style="left:822.600px;top:194.300px;font-size:5.3px">X</div>
<div class="t" style="left:843.200px;top:194.300px;font-size:5.3px">Y</div>
<div class="t" style="left:868.600px;top:195.400px;font-size:3.6px;color:#c8c8c8">▲</div>
<div class="t" style="left:868.600px;top:266.400px;font-size:3.6px;color:#c8c8c8">▼</div>
<div class="t" style="left:773px;top:277px;font-size:5.1px;font-weight:bold;color:#000;-webkit-text-stroke:.15px #000">Paliers</div>
<div class="a" style="left:772px;top:284.600px;width:104.800px;height:163.400px;background:#fafafa;border:.8px solid #d4d8dc"></div>
<div class="prow" style="top:287.1px"><i></i><b style="left:12.6px;width:8.2px">0</b><b style="left:22.3px;width:27px">0,0 (min)</b><b style="left:51.2px;width:37.4px;border-right:.9px solid #f9f9f9;padding-right:3px;width:41.400px">0 (tr/min)</b></div>
<div class="prow" style="top:301.5px"><i></i><b style="left:12.6px;width:8.2px">0</b><b style="left:22.3px;width:27px">0,0 (min)</b><b style="left:51.2px;width:37.4px;border-right:.9px solid #f9f9f9;padding-right:3px;width:41.400px">0 (tr/min)</b></div>
<div class="prow" style="top:315.9px"><i></i><b style="left:12.6px;width:8.2px">0</b><b style="left:22.3px;width:27px">0,0 (min)</b><b style="left:51.2px;width:37.4px;border-right:.9px solid #f9f9f9;padding-right:3px;width:41.400px">0 (tr/min)</b></div>
<div class="prow" style="top:330.4px"><i></i><b style="left:12.6px;width:8.2px">0</b><b style="left:22.3px;width:27px">0,0 (min)</b><b style="left:51.2px;width:37.4px;border-right:.9px solid #f9f9f9;padding-right:3px;width:41.400px">0 (tr/min)</b></div>
<div class="prow" style="top:344.8px"><i></i><b style="left:12.6px;width:8.2px">0</b><b style="left:22.3px;width:27px">0,0 (min)</b><b style="left:51.2px;width:37.4px;border-right:.9px solid #f9f9f9;padding-right:3px;width:41.400px">0 (tr/min)</b></div>
<div class="prow" style="top:359.2px"><i></i><b style="left:12.6px;width:8.2px">0</b><b style="left:22.3px;width:27px">0,0 (min)</b><b style="left:51.2px;width:37.4px;border-right:.9px solid #f9f9f9;padding-right:3px;width:41.400px">0 (tr/min)</b></div>
<div class="prow" style="top:373.6px"><i></i><b style="left:12.6px;width:8.2px">0</b><b style="left:22.3px;width:27px">0,0 (min)</b><b style="left:51.2px;width:37.4px;border-right:.9px solid #f9f9f9;padding-right:3px;width:41.400px">0 (tr/min)</b></div>
<div class="prow" style="top:388.0px"><i></i><b style="left:12.6px;width:8.2px">0</b><b style="left:22.3px;width:27px">0,0 (min)</b><b style="left:51.2px;width:37.4px;border-right:.9px solid #f9f9f9;padding-right:3px;width:41.400px">0 (tr/min)</b></div>
<div class="prow" style="top:402.5px"><i></i><b style="left:12.6px;width:8.2px">0</b><b style="left:22.3px;width:27px">0,0 (min)</b><b style="left:51.2px;width:37.4px;border-right:.9px solid #f9f9f9;padding-right:3px;width:41.400px">0 (tr/min)</b></div>
<div class="prow" style="top:416.9px"><i></i><b style="left:12.6px;width:8.2px">0</b><b style="left:22.3px;width:27px">0,0 (min)</b><b style="left:51.2px;width:37.4px;border-right:.9px solid #f9f9f9;padding-right:3px;width:41.400px">0 (tr/min)</b></div>
<div class="prow" style="top:431.3px"><i></i><b style="left:12.6px;width:8.2px">0</b><b style="left:22.3px;width:27px">0,0 (min)</b><b style="left:51.2px;width:37.4px;border-right:.9px solid #f9f9f9;padding-right:3px;width:41.400px">0 (tr/min)</b></div>
<div class="t" style="left:868.800px;top:290px;font-size:3.6px;color:#d0d0d0">▲</div>
<div class="t" style="left:868.800px;top:439.500px;font-size:3.6px;color:#d0d0d0">▼</div>
<div class="a" style="left:773px;top:458.300px;width:32.600px;height:11.300px;background:#e9ebed;border:.7px solid #c4c4c4"></div>
<div class="t" style="left:775.200px;top:461.800px;font-size:5.3px">0 (min)</div>
<div class="t" style="left:807px;top:462.100px;font-size:5.100px;font-weight:bold;color:#000;letter-spacing:-.1px">Durée test</div>
</body></html>
